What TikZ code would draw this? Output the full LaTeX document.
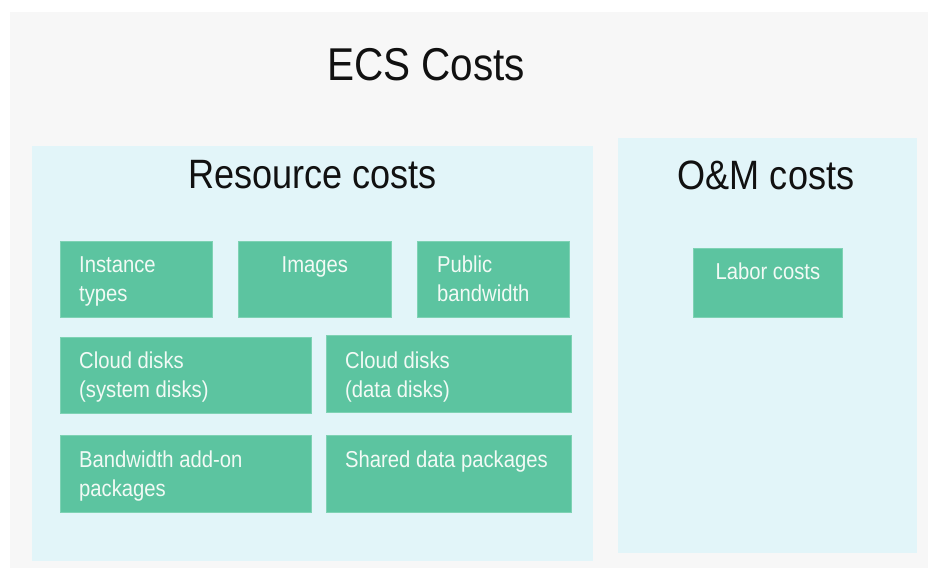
\documentclass[tikz,border=0pt]{standalone}
\usepackage{fontspec}
\setmainfont[FakeStretch=0.88]{Liberation Sans}
\definecolor{bggray}{HTML}{F7F7F7}
\definecolor{panel}{HTML}{E2F5F9}
\definecolor{gfill}{HTML}{5CC4A0}
\definecolor{gedge}{HTML}{7ED2B4}
\definecolor{btxt}{HTML}{F2FAF5}
\definecolor{ttxt}{HTML}{111111}
\newcommand\twoline[2]{\vtop{\baselineskip=29pt\hbox{#1}\hbox{#2}}}
\tikzset{
  panelbox/.style={fill=panel, draw=none, anchor=north west, inner sep=0pt},
  gbox/.style={fill=gfill, draw=gedge, line width=0.8pt, anchor=north west, inner sep=0pt},
  btext/.style={anchor=base west, inner sep=0pt, text=btxt, font=\fontsize{23}{29}\selectfont},
  ctext/.style={anchor=base, inner sep=0pt, text=btxt, font=\fontsize{23}{29}\selectfont},
  title/.style={anchor=base, inner sep=0pt, text=ttxt},
}
\begin{document}
\begin{tikzpicture}[x=1pt,y=-1pt]
\useasboundingbox (0,0) rectangle (928,568);
\fill[white] (0,0) rectangle (928,568);
\fill[bggray] (10,12) rectangle (928,568);
% panels
\node[panelbox, minimum width=561pt, minimum height=415pt] (res) at (32,146) {};
\node[panelbox, minimum width=299pt, minimum height=415pt] (om) at (618,138) {};
% titles
\node[title, font=\fontsize{46}{52}\selectfont] (ecs) at (426,80) {ECS Costs};
\node[title, font=\fontsize{41}{48}\selectfont] (rest) at (312.5,188) {Resource costs};
\node[title, font=\fontsize{41}{48}\selectfont] (omt) at (766,189) {O\&M costs};
% row 1
\node[gbox, minimum width=152pt, minimum height=76pt] (inst) at (60,241) {};
\node[gbox, minimum width=153pt, minimum height=76pt] (img) at (238,241) {};
\node[gbox, minimum width=152pt, minimum height=76pt] (pub) at (417,241) {};
% row 2
\node[gbox, minimum width=251pt, minimum height=76pt] (sys) at (60,337) {};
\node[gbox, minimum width=245pt, minimum height=77pt] (data) at (326,335) {};
% row 3
\node[gbox, minimum width=251pt, minimum height=77pt] (bw) at (60,435) {};
\node[gbox, minimum width=245pt, minimum height=77pt] (shared) at (326,435) {};
% O&M
\node[gbox, minimum width=149pt, minimum height=69pt] (labor) at (693,248) {};
% texts
\node[btext] (instt) at ([shift={(19pt,-31pt)}]inst.north west) {\twoline{Instance}{types}};
\node[ctext] (imgt) at ([shift={(0pt,-31pt)}]img.north) {Images};
\node[btext] (pubt) at ([shift={(20pt,-31pt)}]pub.north west) {\twoline{Public}{bandwidth}};
\node[btext] (syst) at ([shift={(19pt,-31pt)}]sys.north west) {\twoline{Cloud disks}{(system disks)}};
\node[btext] (datat) at ([shift={(19pt,-33pt)}]data.north west) {\twoline{Cloud disks}{(data disks)}};
\node[btext] (bwt) at ([shift={(19pt,-32pt)}]bw.north west) {\twoline{Bandwidth add-on}{packages}};
\node[btext] (sharedt) at ([shift={(19pt,-32pt)}]shared.north west) {Shared data packages};
\node[ctext] (labort) at ([shift={(0pt,-31pt)}]labor.north) {Labor costs};
\end{tikzpicture}
\end{document}
